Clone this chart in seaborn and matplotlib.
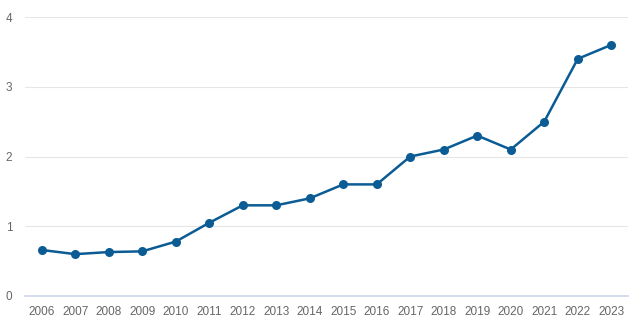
import matplotlib
matplotlib.use("Agg")
import matplotlib.pyplot as plt
import seaborn as sns
import pandas as pd

years = [2006, 2007, 2008, 2009, 2010, 2011, 2012, 2013, 2014,
         2015, 2016, 2017, 2018, 2019, 2020, 2021, 2022, 2023]
values = [0.66, 0.60, 0.63, 0.64, 0.78, 1.05, 1.30, 1.30, 1.40,
          1.60, 1.60, 2.00, 2.10, 2.30, 2.10, 2.50, 3.40, 3.60]
y_ticks = [0, 1, 2, 3, 4]

sns.set_theme(style="white")
plt.rcParams["font.family"] = ["Liberation Sans", "DejaVu Sans"]

df = pd.DataFrame({"year": [str(y) for y in years], "value": values})

fig = plt.figure(figsize=(6.3, 3.27), dpi=100)
ax = fig.add_axes([25 / 630, 31 / 327, 603 / 630, 279 / 327])

color = "#0b5b94"
sns.lineplot(data=df, x="year", y="value", ax=ax, color=color,
             linewidth=1.8, marker="o", markersize=6.5,
             markeredgewidth=0, sort=False)

ax.set_ylim(0, 4)
ax.set_xlim(-0.5, len(years) - 0.5)
ax.set_yticks(y_ticks)
ax.set_yticklabels([str(t) for t in y_ticks])
ax.grid(axis="y", color="#e6e6e6", linewidth=0.8)
ax.grid(axis="x", visible=False)
ax.set_axisbelow(True)

for side in ["top", "right", "left"]:
    ax.spines[side].set_visible(False)
ax.spines["bottom"].set_color("#ccd6eb")
ax.spines["bottom"].set_linewidth(1.2)

ax.tick_params(axis="both", length=0, labelsize=8.5, labelcolor="#666666")
ax.tick_params(axis="x", pad=7)
for lab in ax.get_yticklabels():
    lab.set_horizontalalignment("left")
ax.yaxis.set_tick_params(pad=14)

ax.set_xlabel("")
ax.set_ylabel("")

fig.savefig("out.png", dpi=100)
